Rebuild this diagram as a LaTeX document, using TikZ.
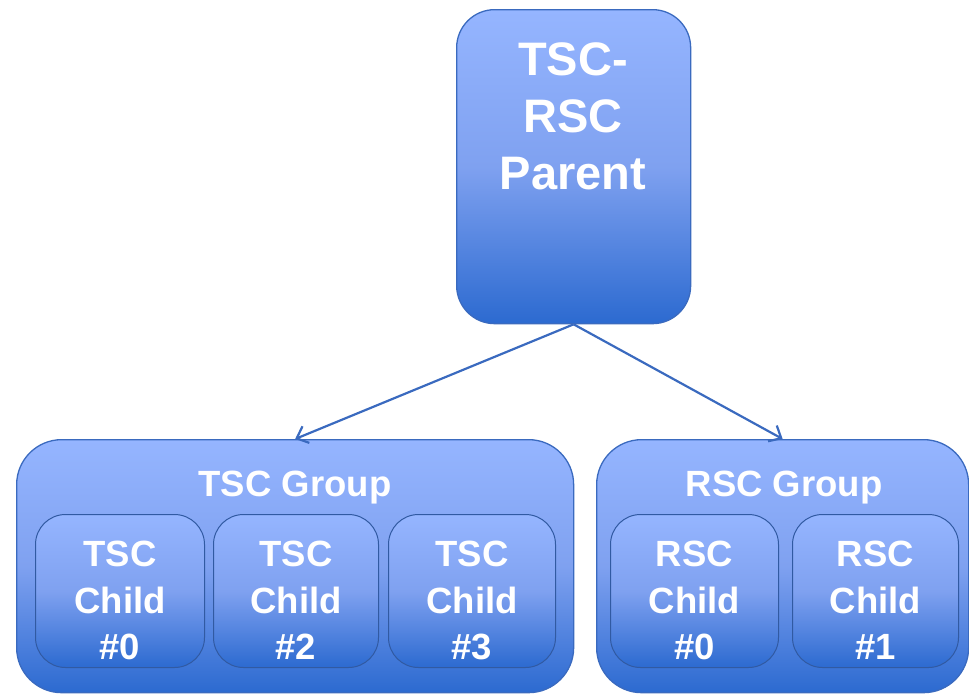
\documentclass[tikz,border=0pt]{standalone}
\usepackage{fontspec}
\setmainfont{Liberation Sans}
\usetikzlibrary{arrows.meta}
\definecolor{topblue}{HTML}{95B5FF}
\definecolor{midblue}{HTML}{7FA1F0}
\definecolor{botblue}{HTML}{2C6AD0}
\definecolor{edgeblue}{HTML}{3A6ABF}
\tikzset{
  x=1pt, y=-1pt,
  gradfill/.style={top color=topblue, bottom color=botblue, middle color=midblue},
  bigbox/.style={draw=edgeblue, line width=1.3pt, gradfill, inner sep=0pt, anchor=north west},
  childbox/.style={draw=edgeblue!85!black, line width=1pt, gradfill, inner sep=0pt, anchor=north west, rounded corners=30pt},
  bigtxt/.style={text=white, font=\bfseries\fontsize{47}{57}\selectfont, align=center, inner sep=0pt},
  childtxt/.style={text=white, font=\bfseries\fontsize{36.5}{46.5}\selectfont, align=center, inner sep=0pt},
  conn/.style={draw=edgeblue, line width=2.2pt, -{Straight Barb[length=10pt,width=18pt,line width=2.2pt]}}
}
\begin{document}
\begin{tikzpicture}
\useasboundingbox (0,0) rectangle (969,694);
% parent
\node[bigbox, rounded corners=38pt, minimum width=234pt, minimum height=314pt] (parent) at (456,9) {};
\node[bigtxt, anchor=north] (ptxt) at (573,42) {TSC-\\RSC\\Parent};
% groups
\node[bigbox, rounded corners=45pt, minimum width=557pt, minimum height=253pt] (tscg) at (16,439) {};
\node[bigbox, rounded corners=45pt, minimum width=372pt, minimum height=253pt] (rscg) at (596,439) {};
\node[childtxt] (tscgl) at (295,488) {TSC Group};
\node[childtxt] (rscgl) at (784,488) {RSC Group};
% children
\node[childbox, minimum width=169pt, minimum height=153pt] (t0) at (35,514) {};
\node[childbox, minimum width=165pt, minimum height=153pt] (t2) at (213,514) {};
\node[childbox, minimum width=167pt, minimum height=153pt] (t3) at (388,514) {};
\node[childbox, minimum width=168pt, minimum height=153pt] (r0) at (610,514) {};
\node[childbox, minimum width=166pt, minimum height=153pt] (r1) at (792,514) {};
\node[childtxt, anchor=north] at ([yshift=-27pt]t0.north) {TSC\\Child\\\#0};
\node[childtxt, anchor=north] at ([yshift=-27pt]t2.north) {TSC\\Child\\\#2};
\node[childtxt, anchor=north] at ([yshift=-27pt]t3.north) {TSC\\Child\\\#3};
\node[childtxt, anchor=north] at ([yshift=-27pt]r0.north) {RSC\\Child\\\#0};
\node[childtxt, anchor=north] at ([yshift=-27pt]r1.north) {RSC\\Child\\\#1};
% connectors
\draw[conn] (parent.south) -- (tscg.north);
\draw[conn] (parent.south) -- (rscg.north);
\end{tikzpicture}
\end{document}
